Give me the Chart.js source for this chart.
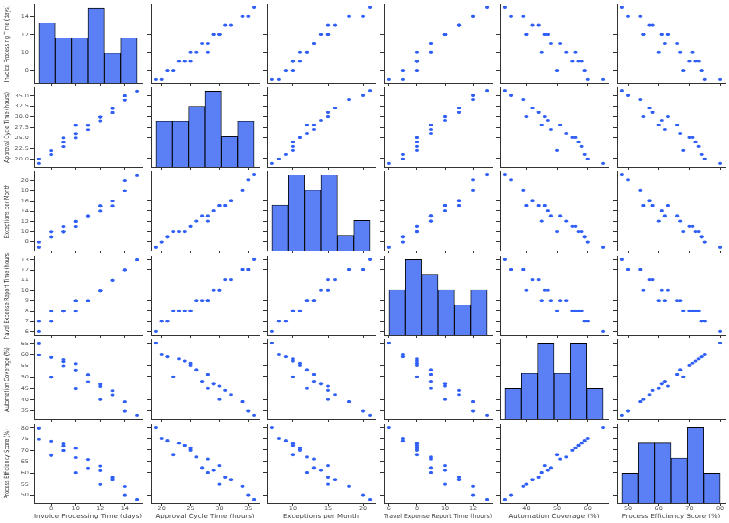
<!DOCTYPE html>
<html>
<head>
<meta charset="utf-8">
<script src="https://cdn.jsdelivr.net/npm/chart.js@4.4.1/dist/chart.umd.min.js"></script>
<style>
html, body { margin: 0; padding: 0; background: #ffffff; width: 729px; height: 523px; overflow: hidden; }
#fig { position: absolute; left: 0; top: 0; width: 729px; height: 737px; transform: scaleY(0.71); transform-origin: 0 0; }
#fig canvas { position: absolute; }
</style>
</head>
<body>
<div id="fig"></div>
<script>
const invoiceDays     = [7, 7, 8, 8, 9, 9, 9, 10, 10, 10, 11, 11, 12, 12, 13, 13, 14, 14, 15, 12];
const approvalHours   = [19, 20, 21, 22, 23, 24, 25, 25, 26, 28, 27, 28, 29, 30, 31, 32, 34, 35, 36, 30];
const exceptionsMonth = [7, 8, 9, 10, 10, 10, 11, 11, 12, 12, 13, 13, 14, 15, 15, 16, 18, 20, 21, 15];
const travelHours     = [6, 7, 7, 8, 8, 8, 8, 8, 9, 9, 9, 9, 10, 10, 11, 11, 12, 12, 13, 10];
const automationPct   = [65, 60, 59, 50, 58, 57, 55, 56, 53, 45, 48, 51, 47, 46, 44, 42, 39, 35, 33, 40];
const efficiencyPct   = [80, 75, 74, 68, 73, 72, 70, 71, 67, 60, 62, 66, 61, 63, 58, 57, 54, 50, 48, 55];

const variableNames = [
  "Invoice Processing Time (days)",
  "Approval Cycle Time (hours)",
  "Exceptions per Month",
  "Travel Expense Report Time (hours)",
  "Automation Coverage (%)",
  "Process Efficiency Score (%)"
];
const yTickValues = [
  [8, 10, 12, 14],
  [20, 22.5, 25, 27.5, 30, 32.5, 35],
  [8, 10, 12, 14, 16, 18, 20],
  [6, 7, 8, 9, 10, 11, 12, 13],
  [35, 40, 45, 50, 55, 60, 65],
  [50, 55, 60, 65, 70, 75, 80]
];
const xTickValues = [
  [8, 10, 12, 14],
  [20, 25, 30, 35],
  [10, 15, 20],
  [6, 8, 10, 12],
  [40, 50, 60],
  [50, 60, 70, 80]
];
const yTickDecimals = [0, 1, 0, 0, 0, 0];
const binCount = 6;

const series = [invoiceDays, approvalHours, exceptionsMonth, travelHours, automationPct, efficiencyPct];

// ---- layout / style ----
const COL_LEFT = [34, 151, 267, 384, 500, 617];
const PANEL_W = 108;
const ROW_TOP = [5, 123, 241, 360, 478, 597];
const PANEL_H = 112;
const FONT = "'DejaVu Sans', sans-serif";
const AXIS_COLOR = '#333333';
const TICK_COLOR = '#555555';
const TITLE_COLOR = '#333333';
const POINT_COLOR = '#2f5ff5';
const HIST_COLOR = '#5b7ff4';

function paddedRange(v) {
  const mn = Math.min(...v), mx = Math.max(...v), p = (mx - mn) * 0.05;
  return [mn - p, mx + p];
}
function histogramBins(values, n) {
  const mn = Math.min(...values), mx = Math.max(...values), w = (mx - mn) / n;
  const counts = new Array(n).fill(0);
  values.forEach(v => {
    let k = Math.floor((v - mn) / w + 1e-9);
    if (k >= n) k = n - 1;
    counts[k]++;
  });
  return counts.map((cnt, k) => ({ x: mn + (k + 0.5) * w, y: cnt }));
}

const fig = document.getElementById('fig');

function makePanel(r, c) {
  const L = c === 0 ? 34 : 6, R = 4, T = 4, B = r === 5 ? 28 : 6;
  const w = L + PANEL_W + R, h = T + PANEL_H + B;
  const cv = document.createElement('canvas');
  cv.width = w; cv.height = h;
  cv.style.left = (COL_LEFT[c] - L) + 'px';
  cv.style.top = (ROW_TOP[r] - T) + 'px';
  cv.style.width = w + 'px';
  cv.style.height = h + 'px';
  fig.appendChild(cv);

  const [xmin, xmax] = paddedRange(series[c]);
  const [ymin, ymax] = paddedRange(series[r]);

  const xScale = {
    type: 'linear', position: 'bottom', min: xmin, max: xmax, offset: false,
    afterBuildTicks: s => { s.ticks = xTickValues[c].map(v => ({ value: v })); },
    afterFit: s => { s.height = B; },
    grid: { display: true, drawOnChartArea: false, drawTicks: true, tickLength: 4, color: AXIS_COLOR, lineWidth: 1, offset: false },
    border: { display: true, color: AXIS_COLOR, width: 1 },
    ticks: { display: r === 5, autoSkip: false, maxRotation: 0, minRotation: 0, padding: -1, color: TICK_COLOR,
             font: { family: FONT, size: 6.5 }, callback: v => String(v) },
    title: { display: r === 5, text: variableNames[c], color: TITLE_COLOR,
             font: { family: FONT, size: 7 }, padding: { top: 0, bottom: 5.5 } }
  };
  const yScale = {
    type: 'linear', position: 'left', min: ymin, max: ymax,
    afterBuildTicks: s => { s.ticks = yTickValues[r].map(v => ({ value: v })); },
    afterFit: s => { s.width = L; },
    grid: { display: true, drawOnChartArea: false, drawTicks: true, tickLength: 4, color: AXIS_COLOR, lineWidth: 1 },
    border: { display: true, color: AXIS_COLOR, width: 1 },
    ticks: { display: c === 0, autoSkip: false, padding: 1, color: TICK_COLOR,
             font: { family: FONT, size: 6.5 }, callback: v => Number(v).toFixed(yTickDecimals[r]) },
    title: { display: c === 0, text: variableNames[r], color: TITLE_COLOR,
             font: { family: FONT, size: 7 }, padding: { top: 3.3, bottom: 0 } }
  };

  const baseOptions = {
    responsive: false, animation: false, devicePixelRatio: 1, events: [],
    layout: { padding: { top: T, right: R, left: 0, bottom: 0 } },
    plugins: { legend: { display: false }, tooltip: { enabled: false }, title: { display: false } }
  };

  let config;
  if (r === c) {
    const bins = histogramBins(series[c], binCount);
    const maxCount = Math.max(...bins.map(b => b.y));
    config = {
      type: 'bar',
      data: { datasets: [{
        data: bins, xAxisID: 'x', yAxisID: 'yc',
        backgroundColor: HIST_COLOR, borderColor: '#000000', borderWidth: 0.9,
        barPercentage: 1, categoryPercentage: 1, grouped: false
      }] },
      options: Object.assign({}, baseOptions, {
        scales: {
          x: xScale, y: yScale,
          yc: { type: 'linear', display: false, min: 0, max: maxCount * 1.05 }
        }
      })
    };
  } else {
    config = {
      type: 'scatter',
      data: { datasets: [{
        data: series[c].map((xv, i) => ({ x: xv, y: series[r][i] })),
        pointRadius: 2.1, pointStyle: 'circle',
        pointBackgroundColor: POINT_COLOR, pointBorderWidth: 0, showLine: false
      }] },
      options: Object.assign({}, baseOptions, { scales: { x: xScale, y: yScale } })
    };
  }
  new Chart(cv, config);
}

for (let r = 0; r < 6; r++) {
  for (let c = 0; c < 6; c++) makePanel(r, c);
}
</script>
</body>
</html>
